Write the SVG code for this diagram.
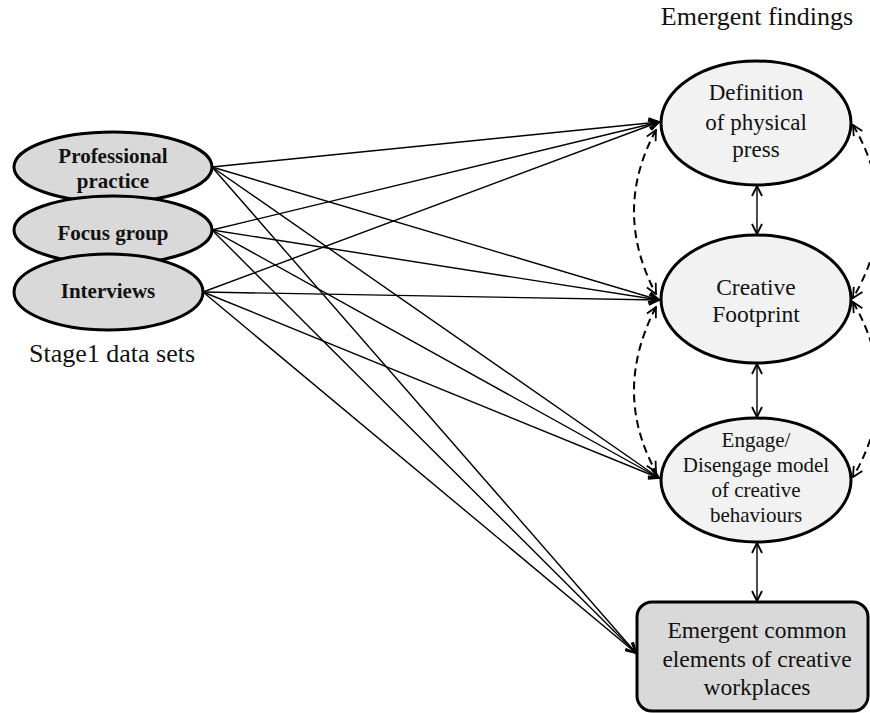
<svg xmlns="http://www.w3.org/2000/svg" width="870" height="713" viewBox="0 0 870 713">
  <defs>
    <marker id="arrow" viewBox="0 0 12 12" refX="11" refY="6" markerWidth="12" markerHeight="12" markerUnits="userSpaceOnUse" orient="auto-start-reverse">
      <path d="M1,1 L11,6 L1,11" fill="none" stroke="#000" stroke-width="1.8"/>
    </marker>
    <style>
      text { font-family: "Liberation Serif", "Times New Roman", serif; fill: #111; }
      .src { fill: #d9d9d9; stroke: #000; stroke-width: 3; }
      .find { fill: #f2f2f2; stroke: #000; stroke-width: 3; }
      .box { fill: #d9d9d9; stroke: #000; stroke-width: 3; }
      .bold { font-weight: bold; font-size: 21px; text-anchor: middle; }
      .t23 { font-size: 23px; text-anchor: middle; }
      .t21 { font-size: 21px; text-anchor: middle; }
      .t24 { font-size: 23.5px; text-anchor: middle; }
      .cap { font-size: 26px; text-anchor: middle; }
      .link { fill: none; stroke: #000; stroke-width: 1.4; marker-end: url(#arrow); }
      .dbl { fill: none; stroke: #000; stroke-width: 1.4; marker-start: url(#arrow); marker-end: url(#arrow); }
      .dash { fill: none; stroke: #000; stroke-width: 2; stroke-dasharray: 8 5; marker-start: url(#arrow); marker-end: url(#arrow); }
    </style>
  </defs>

  <!-- captions -->
  <text class="cap" x="757" y="25">Emergent findings</text>
  <text class="cap" x="112" y="362">Stage1 data sets</text>

  <!-- connectors -->
  <g id="connectors">
    <!-- Professional practice -->
    <path class="link" d="M212,167 L659,122"/>
    <path class="link" d="M212,167 L659,300"/>
    <path class="link" d="M212,167 L659,478"/>
    <path class="link" d="M212,167 L636,653"/>
    <!-- Focus group -->
    <path class="link" d="M212,230 L659,122"/>
    <path class="link" d="M212,230 L659,300"/>
    <path class="link" d="M212,230 L659,478"/>
    <path class="link" d="M212,230 L636,653"/>
    <!-- Interviews -->
    <path class="link" d="M203,292 L659,122"/>
    <path class="link" d="M203,292 L659,300"/>
    <path class="link" d="M203,292 L659,478"/>
    <path class="link" d="M203,292 L636,653"/>
    <!-- vertical links between findings -->
    <path class="dbl" d="M757,186 L757,234"/>
    <path class="dbl" d="M757,364 L757,417"/>
    <path class="dbl" d="M757,543 L757,601"/>
    <!-- dashed feedback loops -->
    <path class="dash" d="M656,130 Q612,211 656,294"/>
    <path class="dash" d="M656,307 Q612,392 656,472"/>
    <path class="dash" d="M853,125 Q904,212 853,298"/>
    <path class="dash" d="M853,302 Q904,390 853,477"/>
  </g>

  <!-- data sources -->
  <g id="professional-practice">
    <ellipse class="src" cx="113" cy="167" rx="99" ry="35"/>
    <text class="bold" x="113" y="163">Professional</text>
    <text class="bold" x="113" y="188">practice</text>
  </g>
  <g id="focus-group">
    <ellipse class="src" cx="113" cy="230" rx="99" ry="34"/>
    <text class="bold" x="113" y="240">Focus group</text>
  </g>
  <g id="interviews">
    <ellipse class="src" cx="108.5" cy="292" rx="94.5" ry="38"/>
    <text class="bold" x="108" y="298">Interviews</text>
  </g>

  <!-- findings -->
  <g id="definition">
    <ellipse class="find" cx="756" cy="123" rx="95" ry="62"/>
    <text class="t23" x="756" y="100">Definition</text>
    <text class="t23" x="756" y="130">of physical</text>
    <text class="t23" x="756" y="157">press</text>
  </g>
  <g id="creative-footprint">
    <ellipse class="find" cx="756" cy="299" rx="95" ry="64"/>
    <text class="t24" x="756" y="295">Creative</text>
    <text class="t24" x="756" y="322">Footprint</text>
  </g>
  <g id="engage-model">
    <ellipse class="find" cx="756" cy="480" rx="95" ry="62"/>
    <text class="t21" x="756" y="447">Engage/</text>
    <text class="t21" x="756" y="472">Disengage model</text>
    <text class="t21" x="756" y="497">of creative</text>
    <text class="t21" x="756" y="522">behaviours</text>
  </g>
  <g id="common-elements">
    <rect class="box" x="637" y="602" width="231" height="109" rx="15" ry="15"/>
    <text class="t24" x="757" y="638">Emergent common</text>
    <text class="t24" x="757" y="667">elements of creative</text>
    <text class="t24" x="757" y="695">workplaces</text>
  </g>
</svg>
